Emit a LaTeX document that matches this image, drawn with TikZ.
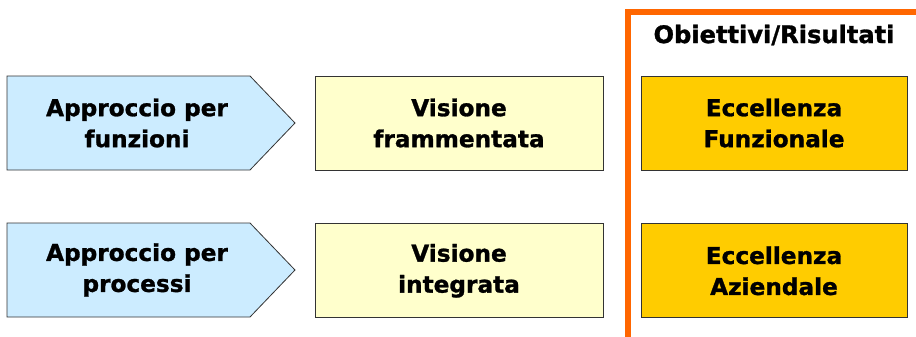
\documentclass[tikz,border=0pt]{standalone}
\usepackage{fontspec}
\setmainfont{DejaVu Sans}[BoldFeatures={FakeBold=1.2}]
\usetikzlibrary{positioning}
\definecolor{approachColor}{HTML}{CCECFF}
\definecolor{visionColor}{HTML}{FFFFCC}
\definecolor{goalColor}{HTML}{FFCC00}
\definecolor{frameColor}{HTML}{FF6600}
\definecolor{edgeColor}{HTML}{333333}
\tikzstyle{diagram} = [x=0.75pt, y=-0.75pt]
\tikzstyle{boxText} = [font=\bfseries\fontsize{17.4}{23.25}\selectfont, align=center, inner sep=0pt]
\tikzstyle{titleText} = [font=\bfseries\fontsize{18.1}{22}\selectfont, inner sep=0pt]
\tikzstyle{approachStyle} = [draw=edgeColor, fill=approachColor, semithick]
\tikzstyle{visionBox} = [boxText, draw=edgeColor, fill=visionColor, semithick, minimum width=216pt, minimum height=70.5pt]
\tikzstyle{goalBox} = [boxText, draw=edgeColor, fill=goalColor, semithick, minimum width=199.5pt, minimum height=70.5pt]
\tikzstyle{frameLine} = [color=frameColor, line width=4.5pt]
\newcommand{\approachArrow}[1]{\filldraw [approachStyle] (7, #1) -- (250, #1) -- (295, #1 + 47) -- (250, #1 + 94) -- (7, #1 + 94) -- cycle;}

\begin{document}
\begin{tikzpicture}[diagram]
  \useasboundingbox (0, 0) rectangle (916, 336);
  % frame of the results column
  \draw [frameLine] (916, 12) -- (628, 12) -- (628, 340);
  \node [titleText] (results) at (774, 35) {Obiettivi/Risultati};

  \approachArrow{76}
  \approachArrow{223}
  \node [boxText] (functions) at (137, 123) {Approccio per\\funzioni};
  \node [boxText] (processes) at (137, 270) {Approccio per\\processi};

  \node [visionBox] (fragmented) at (459, 123) {Visione\\frammentata};
  \node [visionBox, below=39.75pt of fragmented] (integrated) {Visione\\integrata};

  \node [goalBox] (functional) at (774, 123) {Eccellenza\\Funzionale};
  \node [goalBox, below=39.75pt of functional] (company) {Eccellenza\\Aziendale};
\end{tikzpicture}
\end{document}
